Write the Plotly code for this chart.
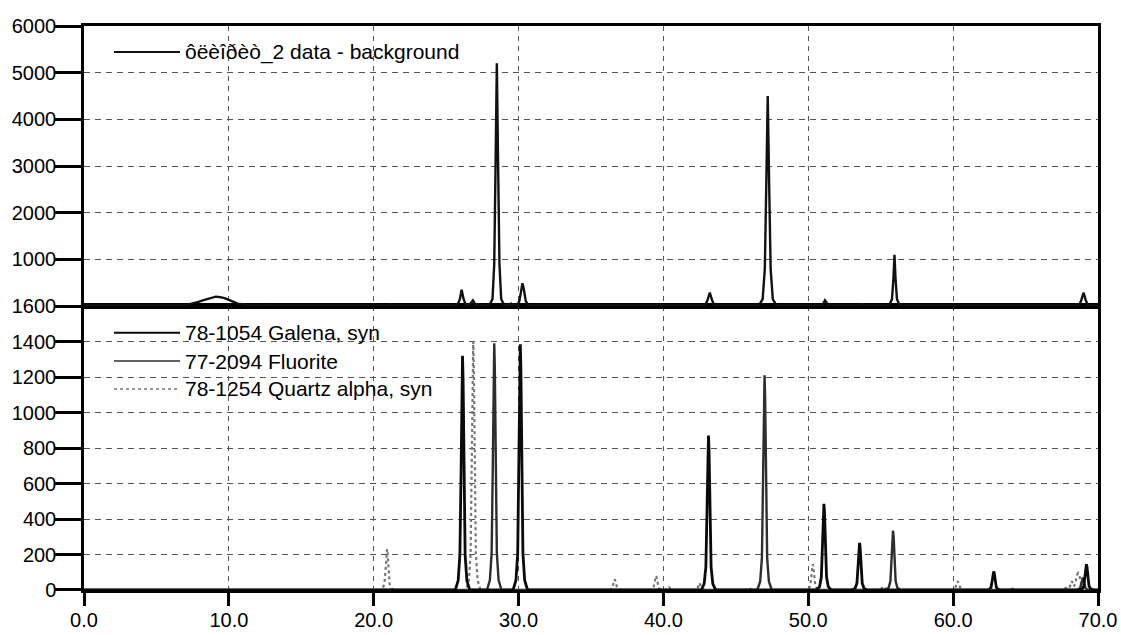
import plotly.graph_objects as go

# ---------------- data ----------------
# Measured pattern: "data - background" (top panel)
meas_x = [0.0, 7.0, 7.3, 7.6, 7.9, 8.2, 8.5, 8.8, 9.1, 9.4, 9.7, 10.0, 10.3, 10.6, 10.9, 11.2, 11.5,
          12.6, 12.8, 13.0, 15.0, 15.2, 15.4, 21.0, 21.2, 21.4, 24.6, 24.8, 25.0, 25.2,
          25.6, 25.8, 25.95, 26.07, 26.2, 26.35, 26.5, 26.7, 26.85, 27.0, 27.2, 27.6, 27.7, 27.8,
          28.0, 28.2, 28.32, 28.42, 28.5, 28.58, 28.68, 28.8, 29.0, 29.4, 29.5, 29.6,
          29.9, 30.05, 30.17, 30.27, 30.37, 30.5, 30.7,
          36.0, 36.15, 36.3, 36.45, 36.6, 39.5, 39.6, 39.7,
          42.7, 42.9, 43.05, 43.2, 43.35, 43.5, 43.7,
          46.6, 46.85, 47.0, 47.1, 47.2, 47.3, 47.4, 47.55, 47.8,
          50.9, 51.05, 51.15, 51.27, 51.4, 53.5, 53.55, 53.8, 53.85,
          55.6, 55.78, 55.88, 55.95, 56.02, 56.12, 56.3,
          62.7, 62.85, 63.0, 68.7, 68.85, 69.0, 69.15, 69.3, 70.0]
meas_y = [10, 10, 40, 60, 90, 120, 150, 185, 200, 190, 170, 130, 90, 50, 40, 20, 10,
          10, 30, 10, 10, 25, 10, 10, 35, 10, 10, 30, 25, 10,
          10, 30, 150, 350, 150, 30, 15, 60, 120, 40, 15, 15, 30, 15,
          20, 150, 900, 3200, 5200, 3200, 900, 150, 20, 20, 50, 20,
          20, 100, 350, 490, 350, 100, 15,
          10, 25, 10, 25, 10, 10, 25, 10,
          10, 25, 130, 290, 130, 25, 10,
          15, 150, 800, 2600, 4500, 2600, 800, 150, 15,
          10, 60, 120, 60, 10, 10, 35, 35, 10,
          15, 150, 600, 1100, 600, 150, 15,
          10, 25, 10, 10, 130, 285, 130, 15, 10]

# 78-1054 Galena, syn
galena_x = [0.0,
            25.63, 25.83, 25.95, 26.03, 26.09, 26.13, 26.17, 26.23, 26.31, 26.43, 26.63,
            29.62, 29.82, 29.94, 30.02, 30.08, 30.12, 30.16, 30.22, 30.30, 30.42, 30.62,
            42.61, 42.81, 42.93, 43.01, 43.07, 43.11, 43.15, 43.21, 43.29, 43.41, 43.61,
            50.58, 50.78, 50.90, 50.98, 51.04, 51.08, 51.12, 51.18, 51.26, 51.38, 51.58,
            53.04, 53.24, 53.36, 53.44, 53.50, 53.54, 53.58, 53.64, 53.72, 53.84, 54.04,
            62.30, 62.50, 62.62, 62.70, 62.76, 62.80, 62.84, 62.90, 62.98, 63.10, 63.30,
            68.70, 68.90, 69.02, 69.10, 69.16, 69.20, 69.24, 69.30, 69.38, 69.50, 69.70,
            70.0]
galena_y = [0,
            0, 53, 200, 660, 1190, 1320, 1190, 660, 200, 53, 0,
            0, 55, 208, 693, 1247, 1385, 1247, 693, 208, 55, 0,
            0, 35, 130, 435, 783, 870, 783, 435, 130, 35, 0,
            0, 19, 73, 243, 437, 485, 437, 243, 73, 19, 0,
            0, 11, 40, 133, 239, 265, 239, 133, 40, 11, 0,
            0, 4, 16, 52, 94, 104, 94, 52, 16, 4, 0,
            0, 6, 22, 73, 131, 145, 131, 73, 22, 6, 0,
            0]

# 77-2094 Fluorite
fluorite_x = [0.0,
              27.82, 28.02, 28.14, 28.22, 28.28, 28.32, 28.36, 28.42, 28.50, 28.62, 28.82,
              46.48, 46.68, 46.80, 46.88, 46.94, 46.98, 47.02, 47.08, 47.16, 47.28, 47.48,
              55.35, 55.55, 55.67, 55.75, 55.81, 55.85, 55.89, 55.95, 56.03, 56.15, 56.35,
              68.45, 68.65, 68.77, 68.85, 68.91, 68.95, 68.99, 69.05, 69.13, 69.25, 69.45,
              70.0]
fluorite_y = [0,
              0, 56, 209, 695, 1251, 1390, 1251, 695, 209, 56, 0,
              0, 48, 182, 605, 1089, 1210, 1089, 605, 182, 48, 0,
              0, 13, 50, 168, 302, 335, 302, 168, 50, 13, 0,
              0, 3, 11, 35, 63, 70, 63, 35, 11, 3, 0,
              0]

# 78-1254 Quartz alpha, syn
quartz_x = [0.0,
            20.42, 20.62, 20.74, 20.82, 20.88, 20.92, 20.96, 21.02, 21.10, 21.22, 21.42,
            26.37, 26.57, 26.69, 26.77, 26.83, 26.87, 26.91, 26.97, 27.05, 27.17, 27.37,
            36.13, 36.33, 36.45, 36.53, 36.59, 36.63, 36.67, 36.73, 36.81, 36.93, 37.13,
            38.99, 39.19, 39.31, 39.39, 39.45, 39.49, 39.53, 39.59, 39.67, 39.79, 39.99,
            40.1, 40.3, 40.4, 40.5, 40.7,
            42.1, 42.32, 42.44, 42.5, 42.56, 42.68, 42.9,
            45.6, 45.9, 46.2,
            49.81, 50.01, 50.13, 50.21, 50.27, 50.31, 50.35, 50.41, 50.49, 50.61, 50.81,
            54.85, 55.05, 55.19, 55.33, 55.55,
            59.92, 60.12, 60.24, 60.32, 60.40, 60.52, 60.72,
            63.8, 64.1, 64.4,
            67.5, 67.8, 68.0, 68.2, 68.35, 68.45, 68.55, 68.63, 68.71, 68.8, 68.9, 69.1,
            70.0]
quartz_y = [0,
            0, 9, 35, 115, 207, 230, 207, 115, 35, 9, 0,
            0, 56, 210, 700, 1260, 1400, 1260, 700, 210, 56, 0,
            0, 2, 9, 30, 54, 60, 54, 30, 9, 2, 0,
            0, 3, 12, 40, 72, 80, 72, 40, 12, 3, 0,
            0, 6, 15, 6, 0,
            0, 6, 25, 40, 25, 6, 0,
            0, 10, 0,
            0, 6, 22, 73, 131, 145, 131, 73, 22, 6, 0,
            0, 8, 20, 8, 0,
            0, 7, 30, 50, 30, 7, 0,
            0, 8, 0,
            0, 12, 8, 50, 20, 45, 85, 95, 85, 40, 10, 0,
            0]

x_ticks = [0, 10, 20, 30, 40, 50, 60, 70]
top_y_ticks = [1000, 2000, 3000, 4000, 5000, 6000]
bottom_y_ticks = [0, 200, 400, 600, 800, 1000, 1200, 1400, 1600]

legend_top = ["ôëèîðèò_2 data - background"]
legend_bottom = ["78-1054 Galena, syn", "77-2094 Fluorite", "78-1254 Quartz alpha, syn"]

# ---------------- styles ----------------
FONT = "Liberation Sans, Arial, sans-serif"
BLACK = "#000000"
GRID = "#555555"
C_MEAS = "#111111"
C_GAL = "#0a0a0a"
C_FLU = "#2e2e2e"
C_QTZ = "#767676"
SPLIT = 0.5035

fig = go.Figure()
fig.add_trace(go.Scatter(x=meas_x, y=meas_y, mode="lines", xaxis="x2", yaxis="y2",
                         line=dict(color=C_MEAS, width=2.4), showlegend=False))
fig.add_trace(go.Scatter(x=quartz_x, y=quartz_y, mode="lines", xaxis="x", yaxis="y",
                         line=dict(color=C_QTZ, width=2.2, dash="dot"), showlegend=False))
fig.add_trace(go.Scatter(x=fluorite_x, y=fluorite_y, mode="lines", xaxis="x", yaxis="y",
                         line=dict(color=C_FLU, width=2.4), showlegend=False))
fig.add_trace(go.Scatter(x=galena_x, y=galena_y, mode="lines", xaxis="x", yaxis="y",
                         line=dict(color=C_GAL, width=2.8), showlegend=False))

common_x = dict(range=[0, 70], tickvals=x_ticks, showline=True, linecolor=BLACK, linewidth=2.5,
                mirror=True, showgrid=True, gridcolor=GRID, gridwidth=1, griddash="5px,5px",
                zeroline=False, automargin=False)
common_y = dict(showline=True, linecolor=BLACK, linewidth=2.5, mirror=True, showgrid=True,
                gridcolor=GRID, gridwidth=1, griddash="6px,5px", zeroline=False,
                ticks="outside", ticklen=26, tickwidth=3, tickcolor=BLACK, automargin=False,
                ticklabelstandoff=-5,
                tickfont=dict(family=FONT, size=20, color=BLACK))

fig.update_layout(
    width=1121, height=635,
    margin=dict(l=84, r=23, t=26, b=45),
    paper_bgcolor="white", plot_bgcolor="white",
    showlegend=False,
    xaxis=dict(**common_x, anchor="y", domain=[0, 1], ticks="outside", ticklen=13, tickwidth=3,
               tickcolor=BLACK, tickformat=".1f", ticklabelstandoff=-3,
               tickfont=dict(family=FONT, size=20, color=BLACK)),
    xaxis2=dict(**common_x, anchor="y2", domain=[0, 1], matches="x", showticklabels=False, ticks=""),
    yaxis=dict(**common_y, anchor="x", domain=[0, SPLIT], range=[0, 1600], tickvals=bottom_y_ticks),
    yaxis2=dict(**common_y, anchor="x2", domain=[SPLIT, 1], range=[0, 6000], tickvals=top_y_ticks),
)

# manual legends (long line samples like the original)
def add_legend_item(text, ypaper, color, dash, width):
    fig.add_shape(type="line", xref="paper", yref="paper", x0=0.0296, x1=0.0947,
                  y0=ypaper, y1=ypaper, opacity=1, layer="above",
                  line=dict(color=color, width=width, dash=dash))
    fig.add_annotation(text=text, xref="paper", yref="paper", x=0.0976, y=ypaper,
                       xanchor="left", yanchor="middle", showarrow=False,
                       font=dict(family=FONT, size=21, color=BLACK))

add_legend_item(legend_top[0], 0.9539, C_MEAS, "solid", 2)
add_legend_item(legend_bottom[0], 0.4562, C_GAL, "solid", 2)
add_legend_item(legend_bottom[1], 0.4060, C_FLU, "solid", 1.6)
add_legend_item(legend_bottom[2], 0.3564, C_QTZ, "dot", 1.6)

fig.write_html("out.html")
